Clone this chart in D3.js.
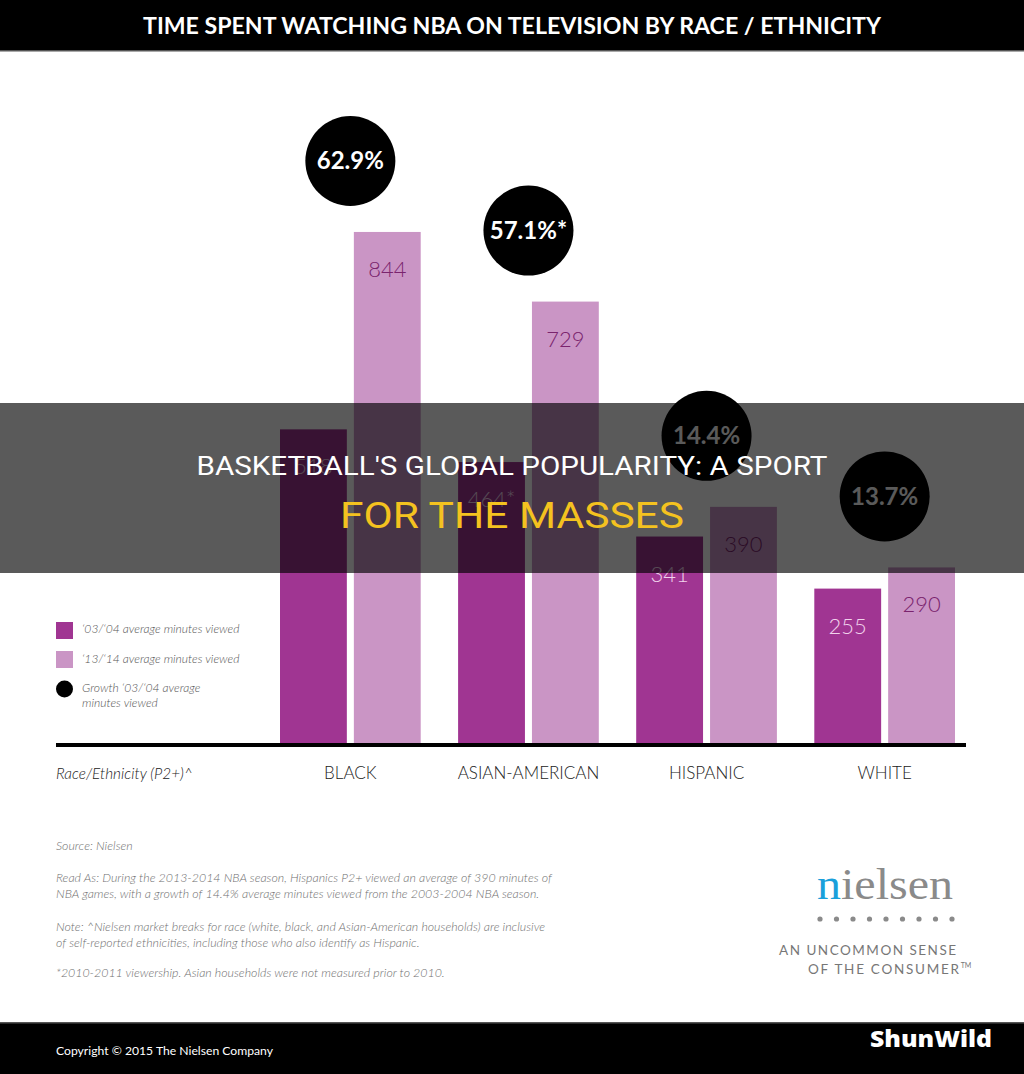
<!DOCTYPE html>
<html>
<head>
<meta charset="utf-8">
<script src="https://cdn.jsdelivr.net/npm/d3@7"></script>
<style>
  html, body { margin: 0; padding: 0; background: #fff; }
  svg { display: block; }
</style>
</head>
<body>
<svg id="chart" width="1024" height="1074"></svg>
<script>
// ---- data ----
const categories = ["BLACK", "ASIAN-AMERICAN", "HISPANIC", "WHITE"];
const series = ["'03/'04 average minutes viewed", "'13/14 average minutes viewed"];
const minutes0304 = [518, 464, 341, 255];
const minutes1314 = [844, 729, 390, 290];
const valueLabels0304 = ["518", "464*", "341", "255"];
const valueLabels1314 = ["844", "729", "390", "290"];
const growthLabels = ["62.9%", "57.1%*", "14.4%", "13.7%"];
const legendLabels = ["\u201803/\u201804 average minutes viewed", "\u201813/\u201814 average minutes viewed", "Growth \u201803/\u201804 average", "minutes viewed"];

const svg = d3.select("#chart");
const W = 1024, H = 1074;
const colDark = "#a03592", colLight = "#ca95c5";

// Title bar
svg.append("rect").attr("x", 0).attr("y", 0).attr("width", W).attr("height", 51).attr("fill", "#000");
svg.append("rect").attr("x", 0).attr("y", 50).attr("width", W).attr("height", 1.5).attr("fill", "#555");
svg.append("text").attr("x", 512).attr("y", 34).attr("text-anchor", "middle")
  .attr("font-family", "Lato, 'Open Sans', sans-serif").attr("font-weight", 700).attr("font-size", 22)
  .attr("fill", "#fff").attr("textLength", 738).attr("lengthAdjust", "spacingAndGlyphs")
  .text("TIME SPENT WATCHING NBA ON TELEVISION BY RACE / ETHNICITY");

// Scales
const x = d3.scaleBand().domain(categories).range([280, 955]).paddingInner(0.21).paddingOuter(0);
const xs = d3.scaleBand().domain([0, 1]).range([0, x.bandwidth()]).paddingInner(0.095);
const y = d3.scaleLinear().domain([0, 1000]).range([743, 137.5]);

const data = categories.map((c, i) => ({
  cat: c,
  vals: [
    {k: 0, v: minutes0304[i], lab: valueLabels0304[i]},
    {k: 1, v: minutes1314[i], lab: valueLabels1314[i]}
  ],
  growth: growthLabels[i],
  top: minutes1314[i]
}));

const groups = svg.append("g").selectAll("g").data(data).join("g")
  .attr("transform", d => `translate(${x(d.cat)},0)`);

groups.selectAll("rect").data(d => d.vals).join("rect")
  .attr("x", d => xs(d.k)).attr("width", xs.bandwidth())
  .attr("y", d => y(d.v)).attr("height", d => y(0) - y(d.v))
  .attr("fill", d => d.k === 0 ? colDark : colLight);

groups.selectAll("text.val").data(d => d.vals).join("text").attr("class", "val")
  .attr("x", d => xs(d.k) + xs.bandwidth() / 2).attr("y", d => y(d.v) + 45)
  .attr("text-anchor", "middle")
  .attr("font-family", "Lato, sans-serif").attr("font-weight", 300).attr("font-size", 22)
  .attr("fill", d => d.k === 0 ? "#f1d2ec" : "#7a246e")
  .text(d => d.lab);

// growth circles
groups.append("circle")
  .attr("cx", x.bandwidth() / 2).attr("cy", d => y(d.top) - 71).attr("r", 45).attr("fill", "#000");
groups.append("text")
  .attr("x", x.bandwidth() / 2).attr("y", d => y(d.top) - 71 + 8.5)
  .attr("text-anchor", "middle")
  .attr("font-family", "Lato, sans-serif").attr("font-weight", 700).attr("font-size", 24)
  .attr("fill", "#fff").text(d => d.growth);

// baseline
svg.append("rect").attr("x", 56).attr("y", 743).attr("width", 910).attr("height", 4).attr("fill", "#000");

// x axis labels
const xAxis = d3.axisBottom(x).tickSize(0).tickPadding(0);
const gx = svg.append("g").attr("transform", "translate(0,765)").call(xAxis);
gx.select(".domain").remove();
gx.selectAll("text").attr("font-family", "Lato, sans-serif").attr("font-weight", 300)
  .attr("font-size", 17).attr("fill", "#222").attr("dy", "0.8em");
svg.append("text").attr("x", 56).attr("y", 779)
  .attr("font-family", "Lato, sans-serif").attr("font-style", "italic").attr("font-weight", 300)
  .attr("font-size", 15.3).attr("fill", "#222").text("Race/Ethnicity (P2+)^");

// legend
const lg = svg.append("g").attr("font-family", "Lato, sans-serif").attr("font-style", "italic")
  .attr("font-weight", 300).attr("font-size", 12.1).attr("fill", "#555");
lg.append("rect").attr("x", 56).attr("y", 622).attr("width", 17).attr("height", 17).attr("fill", colDark);
lg.append("rect").attr("x", 56).attr("y", 651).attr("width", 17).attr("height", 17).attr("fill", colLight);
lg.append("circle").attr("cx", 64.5).attr("cy", 689).attr("r", 8.5).attr("fill", "#000");
[[633, 0], [663, 1], [692, 2], [707, 3]].forEach(([yy, i]) => {
  lg.append("text").attr("x", 82).attr("y", yy).text(legendLabels[i]);
});

// footnotes
const notes = [
  [850, "Source: Nielsen"],
  [882, "Read As: During the 2013-2014 NBA season, Hispanics P2+ viewed an average of 390 minutes of"],
  [898, "NBA games, with a  growth of 14.4% average minutes viewed from the 2003-2004 NBA season."],
  [931, "Note: ^Nielsen market breaks for race (white, black, and Asian-American households) are inclusive"],
  [947, "of self-reported ethnicities, including those who also identify as Hispanic."],
  [977, "*2010-2011 viewership. Asian households were not measured prior to 2010."]
];
const nt = svg.append("g").attr("font-family", "Lato, sans-serif").attr("font-style", "italic")
  .attr("font-weight", 300).attr("font-size", 12.4).attr("fill", "#707070").style("white-space", "pre");
nt.selectAll("text").data(notes).join("text").attr("x", 56).attr("y", d => d[0]).text(d => d[1]);

// nielsen logo
const logo = svg.append("text").attr("x", 817).attr("y", 899)
  .attr("font-family", "'Liberation Serif', 'DejaVu Serif', serif").attr("font-size", 44)
  .attr("textLength", 136).attr("lengthAdjust", "spacingAndGlyphs");
logo.append("tspan").attr("fill", "#1aa0db").text("n");
logo.append("tspan").attr("fill", "#8a8a8a").text("ielsen");
svg.append("g").selectAll("circle").data(d3.range(9)).join("circle")
  .attr("cx", d => 820 + d * 16.5).attr("cy", 919).attr("r", 2.6).attr("fill", "#8a8a8a");
svg.append("text").attr("x", 779).attr("y", 955).attr("font-family", "Lato, sans-serif").attr("font-weight", 400)
  .attr("font-size", 13.5).attr("fill", "#777").attr("textLength", 177).attr("lengthAdjust", "spacing")
  .text("AN UNCOMMON SENSE");
const oc = svg.append("text").attr("x", 808).attr("y", 974).attr("font-family", "Lato, sans-serif").attr("font-weight", 400)
  .attr("font-size", 13.5).attr("fill", "#777");
oc.append("tspan").attr("textLength", 151).attr("lengthAdjust", "spacing").text("OF THE CONSUMER");
oc.append("tspan").attr("font-size", 7).attr("dy", -6).text("TM");

// footer
svg.append("rect").attr("x", 0).attr("y", 1022).attr("width", W).attr("height", 52).attr("fill", "#000");
svg.append("rect").attr("x", 0).attr("y", 1022).attr("width", W).attr("height", 1.5).attr("fill", "#555");
svg.append("text").attr("x", 56).attr("y", 1055).attr("font-family", "Lato, sans-serif").attr("font-size", 12)
  .attr("fill", "#fff").attr("textLength", 217).attr("lengthAdjust", "spacingAndGlyphs")
  .text("Copyright \u00a9 2015 The Nielsen Company");
svg.append("text").attr("x", 992).attr("y", 1047).attr("text-anchor", "end")
  .attr("font-family", "'Open Sans', Lato, sans-serif").attr("font-weight", 800).attr("font-size", 22)
  .attr("fill", "#fff").attr("textLength", 122).attr("lengthAdjust", "spacingAndGlyphs").text("ShunWild");

// overlay band
svg.append("rect").attr("x", 0).attr("y", 403).attr("width", W).attr("height", 170).attr("fill", "rgba(0,0,0,0.647)");
svg.append("text").attr("x", 512).attr("y", 475).attr("text-anchor", "middle")
  .attr("font-family", "Roboto, sans-serif").attr("font-weight", 400).attr("font-size", 26).attr("fill", "#fff")
  .attr("textLength", 631).attr("lengthAdjust", "spacingAndGlyphs")
  .text("BASKETBALL'S GLOBAL POPULARITY: A SPORT");
svg.append("text").attr("x", 512).attr("y", 528).attr("text-anchor", "middle")
  .attr("font-family", "Roboto, sans-serif").attr("font-weight", 400).attr("font-size", 36).attr("fill", "#f4c21f")
  .attr("textLength", 344).attr("lengthAdjust", "spacingAndGlyphs")
  .text("FOR THE MASSES");
</script>
</body>
</html>
